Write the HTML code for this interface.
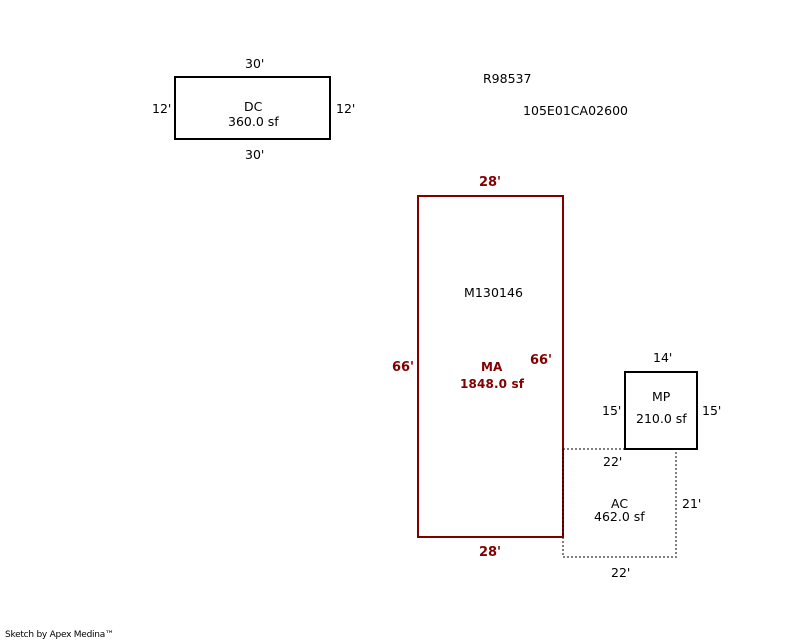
<!DOCTYPE html>
<html>
<head>
<meta charset="utf-8">
<style>
html,body{margin:0;padding:0;background:#fff;}
svg{display:block;}
text{font-family:"DejaVu Sans",sans-serif;font-size:12.5px;fill:#000;}
.r{fill:#800000;font-weight:bold;font-size:13px;}
</style>
</head>
<body>
<svg width="800" height="640" viewBox="0 0 800 640" xmlns="http://www.w3.org/2000/svg" shape-rendering="crispEdges">
<!-- AC dashed -->
<g fill="none" stroke="#808080" stroke-width="2" stroke-dasharray="2 2">
<path d="M563 449H676V557H563V449"/>
</g>
<!-- MA -->
<rect x="418" y="196" width="145" height="341" fill="none" stroke="#800000" stroke-width="2"/>
<path d="M563 449V537" fill="none" stroke="#400000" stroke-width="2" stroke-dasharray="2 2"/>
<!-- DC -->
<rect x="175" y="77" width="155" height="62" fill="none" stroke="#000" stroke-width="2"/>
<!-- MP -->
<rect x="625" y="372" width="72" height="77" fill="none" stroke="#000" stroke-width="2"/>

<text x="245" y="68">30'</text>
<text x="152" y="113">12'</text>
<text x="336" y="113">12'</text>
<text x="244" y="111">DC</text>
<text x="228" y="126">360.0 sf</text>
<text x="245" y="159">30'</text>

<text x="483" y="83">R98537</text>
<text x="523" y="115" textLength="105">105E01CA02600</text>

<text class="r" x="479" y="186" textLength="22">28'</text>
<text x="464" y="297" textLength="59">M130146</text>
<text class="r" x="392" y="371" textLength="22">66'</text>
<text class="r" x="530" y="364" textLength="22">66'</text>
<text class="r" x="481" y="371" style="font-size:12px">MA</text>
<text class="r" x="460" y="388" textLength="64" style="font-size:12px">1848.0 sf</text>
<text class="r" x="479" y="556" textLength="22">28'</text>

<text x="653" y="362">14'</text>
<text x="652" y="401">MP</text>
<text x="602" y="415">15'</text>
<text x="702" y="415">15'</text>
<text x="636" y="423">210.0 sf</text>

<text x="603" y="466">22'</text>
<text x="611" y="508">AC</text>
<text x="594" y="521">462.0 sf</text>
<text x="682" y="508">21'</text>
<text x="611" y="577">22'</text>

<text x="5" y="637" style="font-size:9px" textLength="109">Sketch by Apex Medina™</text>
</svg>
</body>
</html>
